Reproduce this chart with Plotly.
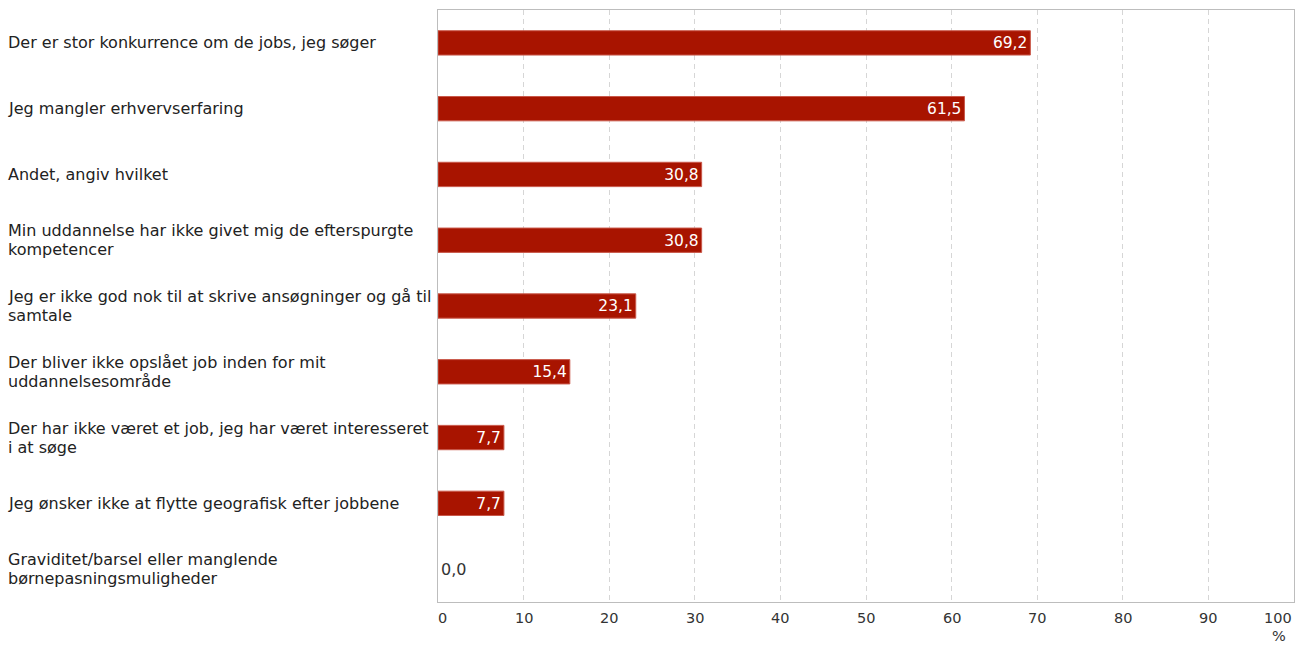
import plotly.graph_objects as go

# Survey answers (top to bottom as shown)
categories = [
    "Der er stor konkurrence om de jobs, jeg søger",
    "Jeg mangler erhvervserfaring",
    "Andet, angiv hvilket",
    "Min uddannelse har ikke givet mig de efterspurgte<br>kompetencer",
    "Jeg er ikke god nok til at skrive ansøgninger og gå til<br>samtale",
    "Der bliver ikke opslået job inden for mit<br>uddannelsesområde",
    "Der har ikke været et job, jeg har været interesseret<br>i at søge",
    "Jeg ønsker ikke at flytte geografisk efter jobbene",
    "Graviditet/barsel eller manglende<br>børnepasningsmuligheder",
]
values = [69.2, 61.5, 30.8, 30.8, 23.1, 15.4, 7.7, 7.7, 0.0]
tick_vals = [0, 10, 20, 30, 40, 50, 60, 70, 80, 90, 100]

FONT = "DejaVu Sans, Verdana, sans-serif"
BAR = "#a81400"
LINE_H = 19  # px between wrapped label lines

fig = go.Figure()
fig.add_trace(go.Bar(
    y=categories,
    x=values,
    orientation="h",
    marker=dict(color=BAR, line=dict(color="#c9584a",
                                     width=[1 if v > 0 else 0 for v in values])),
    texttemplate="%{x:.1f}",
    textposition=["inside" if v > 0 else "outside" for v in values],
    insidetextanchor="end",
    textfont=dict(family=FONT, size=16,
                  color=["white" if v > 0 else "#333333" for v in values]),
    cliponaxis=False,
    hoverinfo="skip",
))

# left-aligned category labels, one annotation per line for tighter spacing
for cat in categories:
    lines = cat.split("<br>")
    n = len(lines)
    for i, line in enumerate(lines):
        fig.add_annotation(
            x=0, xref="paper", xanchor="left", xshift=-432,
            y=cat, yref="y", yanchor="middle",
            yshift=((n - 1) / 2 - i) * LINE_H,
            text=line, showarrow=False, align="left",
            font=dict(family=FONT, size=16, color="#222222"),
        )

# x tick labels: first left-aligned, last right-aligned, others centred
for t in tick_vals:
    anchor = "left" if t == tick_vals[0] else ("right" if t == tick_vals[-1] else "center")
    fig.add_annotation(
        x=t, xref="x", xanchor=anchor, xshift=(-2 if t == tick_vals[0] else 0),
        y=0, yref="paper", yanchor="top", yshift=-6,
        text=str(t), showarrow=False,
        font=dict(family=FONT, size=14.5, color="#333333"),
    )
fig.add_annotation(
    x=1, xref="paper", xanchor="right", xshift=-6, y=0, yref="paper", yanchor="top",
    yshift=-24, text="%", showarrow=False,
    font=dict(family=FONT, size=14.5, color="#333333"),
)

fig.update_layout(
    width=1298, height=645,
    margin=dict(l=438, r=4, t=10, b=43),
    paper_bgcolor="white",
    plot_bgcolor="white",
    separators=", ",
    showlegend=False,
    bargap=0.63,
    font=dict(family=FONT, size=14, color="#333333"),
    xaxis=dict(
        range=[0, 100], tickvals=tick_vals, showticklabels=False,
        showgrid=True, gridcolor="#d6d6d6", griddash="5px,4px", gridwidth=1,
        zeroline=False, showline=True, linecolor="#bdbdbd", linewidth=1, mirror=True,
        fixedrange=True,
    ),
    yaxis=dict(
        autorange="reversed", showticklabels=False, showgrid=False,
        showline=True, linecolor="#bdbdbd", linewidth=1, mirror=True,
        fixedrange=True,
    ),
)

fig.write_html("out.html", config={"displayModeBar": False},
               post_script="document.body.style.margin='0';")
